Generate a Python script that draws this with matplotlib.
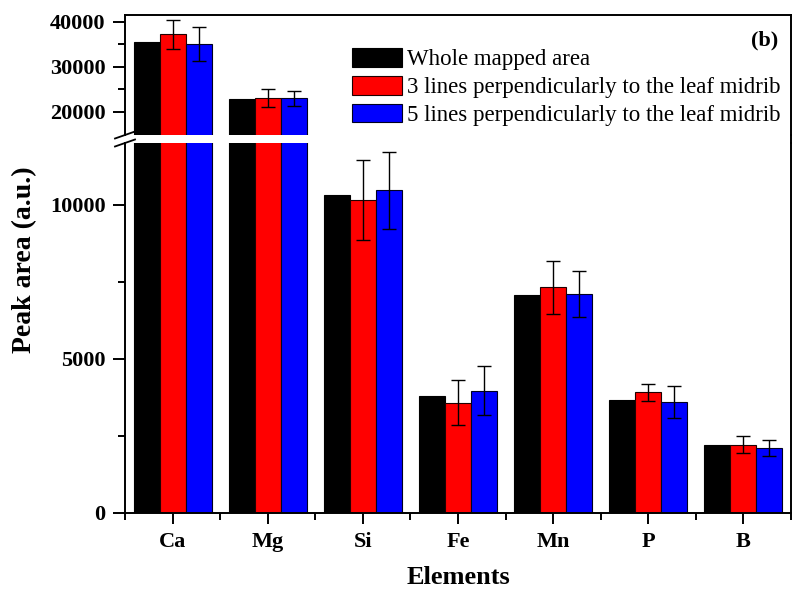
import numpy as np
import matplotlib
matplotlib.use("Agg")
import matplotlib.pyplot as plt
from matplotlib.lines import Line2D
from matplotlib.patches import Patch

plt.rcParams['font.family'] = ['Liberation Serif', 'DejaVu Serif']

elements = ['Ca', 'Mg', 'Si', 'Fe', 'Mn', 'P', 'B']
series_names = ['Whole mapped area',
                '3 lines perpendicularly to the leaf midrib',
                '5 lines perpendicularly to the leaf midrib']
whole_area = [35500, 22900, 10300, 3800, 7080, 3650, 2215]
lines3 = [37200, 23100, 10160, 3580, 7315, 3920, 2210]
lines3_err = [3200, 2000, 1290, 720, 855, 280, 280]
lines5 = [35100, 23000, 10460, 3970, 7100, 3610, 2110]
lines5_err = [3800, 1700, 1250, 790, 750, 520, 270]

W, H = 793, 590
fig = plt.figure(figsize=(W / 100, H / 100), dpi=100)


def px_box(x0, y0, x1, y1):
    # pixel box (top-left origin) -> figure fraction rect
    return [x0 / W, 1 - y1 / H, (x1 - x0) / W, (y1 - y0) / H]


ax_top = fig.add_axes(px_box(125, 15, 791, 135))
ax_bot = fig.add_axes(px_box(125, 143, 791, 513))

x = np.arange(len(elements))
w = 0.273
spine_w = 1.4
tick_fs = 16
err_kw = dict(ecolor='black', elinewidth=1.0, capsize=5, capthick=1.0)


def draw_bars(ax):
    ax.bar(x - w, whole_area, w, color='black', edgecolor='black', lw=0.8)
    ax.bar(x, lines3, w, yerr=lines3_err, color='#ff0000', edgecolor='#200000',
           lw=0.8, error_kw=err_kw)
    ax.bar(x + w, lines5, w, yerr=lines5_err, color='#0000ff', edgecolor='#000020',
           lw=0.8, error_kw=err_kw)
    ax.set_xlim(-0.5, 6.5)
    for s in ax.spines.values():
        s.set_linewidth(spine_w)
    ax.tick_params(axis='y', which='major', direction='out', length=9, width=spine_w,
                   pad=5)
    ax.tick_params(axis='y', which='minor', direction='out', length=5, width=spine_w)
    ax.tick_params(axis='y', right=False)


draw_bars(ax_top)
draw_bars(ax_bot)

ax_top.set_ylim(14900, 41500)
ax_top.set_yticks([20000, 30000, 40000])
ax_top.set_yticks([25000, 35000], minor=True)
ax_top.set_yticklabels(['20000', '30000', '40000'], fontweight='bold', fontsize=tick_fs)
ax_top.spines['bottom'].set_visible(False)
ax_top.set_xticks([])
ax_top.set_xticks([], minor=True)

ax_bot.set_ylim(0, 12000)
ax_bot.set_yticks([0, 5000, 10000])
ax_bot.set_yticks([2500, 7500], minor=True)
ax_bot.set_yticklabels(['0', '5000', '10000'], fontweight='bold', fontsize=tick_fs)
ax_bot.spines['top'].set_visible(False)
ax_bot.set_xticks(x)
ax_bot.set_xticks(np.arange(-0.5, 7, 1), minor=True)
ax_bot.set_xticklabels(elements, fontweight='bold', fontsize=tick_fs)
ax_bot.tick_params(axis='x', which='major', direction='out', length=8, width=spine_w, pad=6)
ax_bot.tick_params(axis='x', which='minor', direction='out', length=5, width=spine_w)


def fig_line(xs, ys, **kw):
    fig.add_artist(Line2D([v / W for v in xs], [1 - v / H for v in ys],
                          transform=fig.transFigure, color='black', **kw))


# right spine continues through the break, left spine gets the // marks
fig_line([791, 791], [135, 143], lw=spine_w)
fig_line([115, 135], [138.5, 131.5], lw=1.3)
fig_line([115, 135], [146.5, 139.5], lw=1.3)

fig.text(25 / W, 1 - 260 / H, 'Peak area (a.u.)', rotation=90, ha='center', va='center',
         fontsize=20, fontweight='bold')
fig.text(458 / W, 1 - 578 / H, 'Elements', ha='center', va='center',
         fontsize=19, fontweight='bold')
fig.text(778 / W, 1 - 40 / H, '(b)', ha='right', va='center', fontsize=16,
         fontweight='bold')

handles = [Patch(facecolor='black', edgecolor='black', lw=0.8),
           Patch(facecolor='#ff0000', edgecolor='#200000', lw=0.8),
           Patch(facecolor='#0000ff', edgecolor='#000020', lw=0.8)]
fig.legend(handles, series_names, loc='upper left',
           bbox_to_anchor=(352 / W, 1 - 48 / H), frameon=False,
           prop={'family': 'Liberation Serif', 'size': 16.5},
           borderpad=0, borderaxespad=0, handlelength=2.2, handleheight=0.87,
           handletextpad=0.2, labelspacing=0.25)

fig.savefig('out.png', dpi=100)
